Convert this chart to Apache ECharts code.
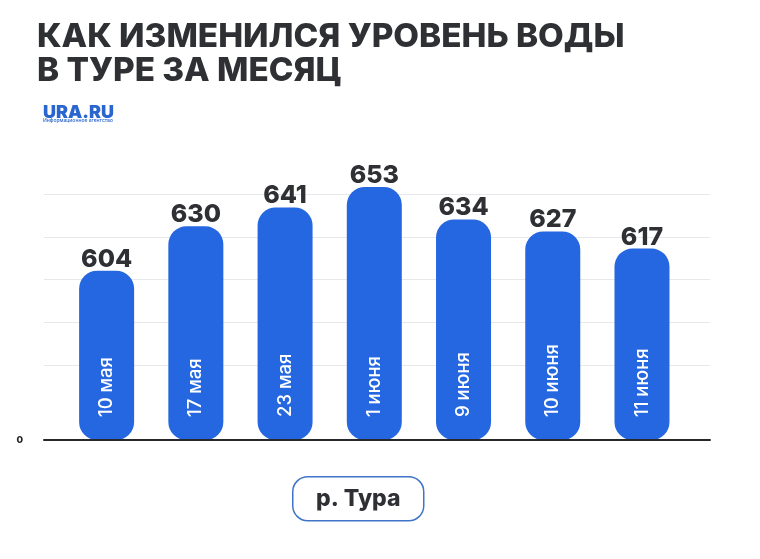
<!DOCTYPE html>
<html><head><meta charset="utf-8">
<style>html,body{margin:0;padding:0;background:#fff}#c{width:760px;height:559px}</style>
<script src="https://cdn.jsdelivr.net/npm/echarts@6/dist/echarts.min.js"></script>
</head><body><div id="c"></div>
<script>
const categories = ['10 мая','17 мая','23 мая','1 июня','9 июня','10 июня','11 июня'];
const levels = [604,630,641,653,634,627,617];
const titleLines = ['КАК ИЗМЕНИЛСЯ УРОВЕНЬ ВОДЫ','В ТУРЕ ЗА МЕСЯЦ'];
const axisMin = 505, axisMax = 660, zeroLabel = '0';
const riverName = 'р. Тура';
const FONT = 'Inter, "Noto Sans", sans-serif';
const chart = echarts.init(document.getElementById('c'), null, {renderer:'canvas'});
chart.setOption({
  animation:false,
  backgroundColor:'#fff',
  title:[
    {text:titleLines.join('\n'),left:37,top:20,padding:0,textStyle:{fontFamily:FONT,fontSize:33.3,fontWeight:800,color:'#2e3034',lineHeight:34}},
    {text:'URA.RU',left:43,top:104,padding:0,textStyle:{fontFamily:FONT,fontSize:18,fontWeight:900,color:'#2a66cf'}},
    {text:'Информационное агентство',left:43,top:118,padding:0,textStyle:{fontFamily:FONT,fontSize:5,fontWeight:500,color:'#2a66cf'}}
  ],
  grid:[
    {left:62,width:624.6,top:175,height:265},
    {left:44,width:666,top:194,height:171}
  ],
  xAxis:[
    {type:'category',gridIndex:0,data:categories,z:5,
     axisLine:{show:false},axisTick:{show:false},splitLine:{show:false},
     axisLabel:{inside:true,rotate:90,margin:23,color:'#fff',fontFamily:FONT,fontSize:18.5,fontWeight:500,interval:0}},
    {type:'category',gridIndex:1,data:[],position:'bottom',offset:75,z:5,
     axisLine:{show:true,onZero:false,lineStyle:{color:'#26282c',width:2}},axisTick:{show:false},axisLabel:{show:false},splitLine:{show:false}}
  ],
  yAxis:[
    {type:'value',gridIndex:0,min:axisMin,max:axisMax,interval:5,
     axisLine:{show:false},axisTick:{show:false},splitLine:{show:false},
     axisLabel:{margin:39,color:'#222',fontFamily:FONT,fontSize:9.5,fontWeight:800,
       formatter:v=>v===axisMin?zeroLabel:''}},
    {type:'value',gridIndex:1,min:0,max:4,interval:1,
     axisLine:{show:false},axisTick:{show:false},axisLabel:{show:false},
     splitLine:{show:true,lineStyle:{color:'#e6e8ec',width:1}}}
  ],
  series:[{
    type:'bar',xAxisIndex:0,yAxisIndex:0,data:levels,barWidth:55,z:3,
    itemStyle:{color:'#2567e0',borderRadius:18},
    label:{show:true,position:'top',distance:-1,color:'#2e3034',fontFamily:FONT,fontSize:25,fontWeight:800}
  }],
  graphic:[{
    type:'group',left:292,top:476,children:[
      {type:'rect',shape:{x:0,y:0,width:131,height:44,r:15},style:{fill:'#fff',stroke:'#3f74c9',lineWidth:1.5}},
      {type:'text',style:{x:65.5,y:22,text:riverName,align:'center',verticalAlign:'middle',fontFamily:FONT,fontSize:23,fontWeight:800,fill:'#2e3034'}}
    ]
  }]
});
</script></body></html>
